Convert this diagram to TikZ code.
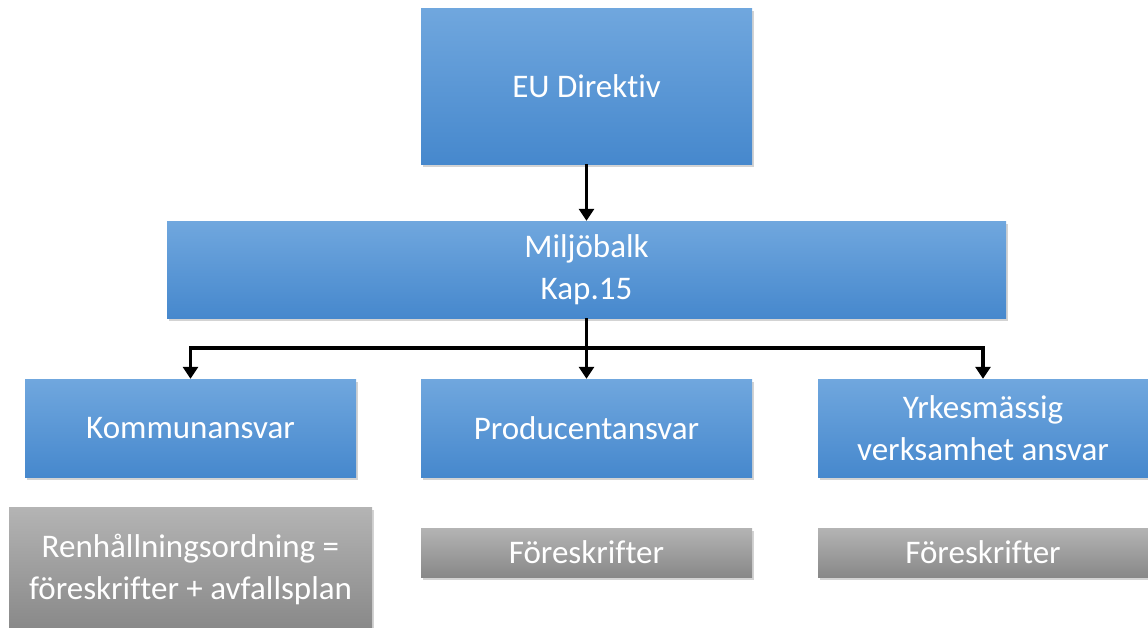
\documentclass[tikz,border=0pt]{standalone}
\usepackage{fontspec}
\setmainfont{Carlito}[Ligatures=NoCommon]
\usetikzlibrary{arrows.meta,shadows}

\definecolor{bluetop}{RGB}{112,167,222}
\definecolor{bluebot}{RGB}{70,136,205}
\definecolor{greytop}{RGB}{180,180,180}
\definecolor{greybot}{RGB}{136,136,136}

\tikzset{
	bluebox/.style={rectangle, top color=bluetop, bottom color=bluebot, draw=none, text=white,
		font=\fontsize{33}{42}\selectfont, align=center, inner sep=0pt,
		drop shadow={shadow xshift=1.5pt, shadow yshift=-3pt, opacity=0.35}},
	greybox/.style={bluebox, top color=greytop, bottom color=greybot},
	flow/.style={line width=3.8pt, -{Triangle[width=15pt,length=12pt]}}
}

\begin{document}
\begin{tikzpicture}[x=1pt,y=-1pt]
		\useasboundingbox (0,0) rectangle (1148,627);
		
		%Shape: Rectangle [EU]
		\node [bluebox, minimum width=331, minimum height=156] (eu) at (586.5,86) {EU Direktiv};
		%Shape: Rectangle [Miljobalk]
		\node [bluebox, minimum width=839, minimum height=97] (miljo) at (586.5,269.5) {Miljöbalk\\Kap.15};
		
		%Shape: Rectangle [ansvar row]
		\node [bluebox, minimum width=331, minimum height=98] (kommun) at (190.5,428) {Kommunansvar};
		\node [bluebox, minimum width=331, minimum height=98] (produc) at (586.5,428) {Producentansvar};
		\node [bluebox, minimum width=330, minimum height=98] (yrkes) at (983,428) {Yrkesmässig\\verksamhet ansvar};
		
		%Shape: Rectangle [grey row]
		\node [greybox, minimum width=363, minimum height=124] (renhall) at (190.5,569) {Renhållningsordning =\\föreskrifter + avfallsplan};
		\node [greybox, minimum width=331, minimum height=49] (foreskr1) at (586.5,552.5) {Föreskrifter};
		\node [greybox, minimum width=330, minimum height=49] (foreskr2) at (983,552.5) {Föreskrifter};
		
		%Straight Lines
		\draw [flow] (eu.south) -- (miljo.north);
		\coordinate (split) at ([yshift=-30pt]miljo.south);
		\draw [line width=3.8pt] (miljo.south) -- (split);
		\draw [flow] (split) -| (kommun.north);
		\draw [flow] (split) -- (produc.north);
		\draw [flow] (split) -| (yrkes.north);
		
\end{tikzpicture}
\end{document}
